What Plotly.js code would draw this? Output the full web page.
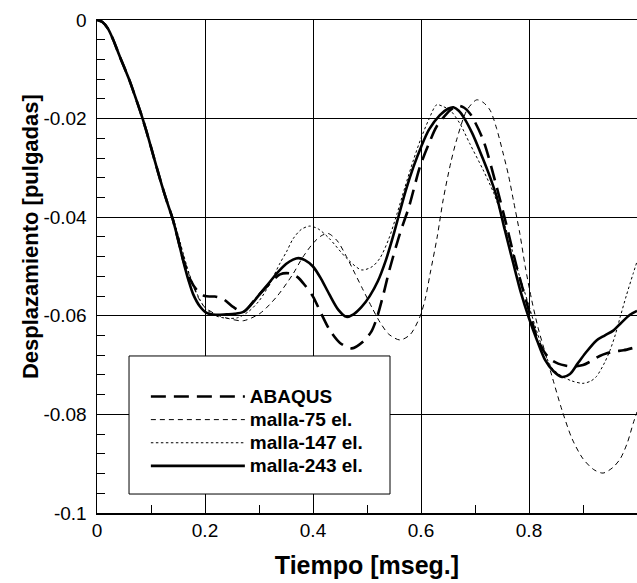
<!DOCTYPE html>
<html>
<head>
<meta charset="utf-8">
<script src="https://cdn.plot.ly/plotly-3.0.1.min.js"></script>
<style>html,body{margin:0;padding:0;background:#fff;}#chart{width:637px;height:583px;}</style>
</head>
<body>
<div id="chart"></div>
<script>
// ABAQUS
const abaqusX = [0,0.01,0.02,0.03,0.04,0.05,0.06,0.07,0.08,0.09,0.10,0.11,0.12,0.13,0.14,0.15,0.16,0.172,0.185,0.20,0.218,0.234,0.252,0.271,0.29,0.314,0.339,0.357,0.372,0.385,0.40,0.415,0.431,0.45,0.472,0.493,0.508,0.518,0.53,0.542,0.561,0.578,0.598,0.615,0.629,0.654,0.669,0.68,0.691,0.715,0.74,0.758,0.777,0.80,0.815,0.83,0.842,0.854,0.867,0.882,0.90,0.913,0.93,0.944,0.96,0.975,1.0];
const abaqusY = [0,-0.0004,-0.0017,-0.0040,-0.0068,-0.0095,-0.0122,-0.0153,-0.0185,-0.0220,-0.0258,-0.0297,-0.0335,-0.0370,-0.0403,-0.0445,-0.0488,-0.0525,-0.0548,-0.0560,-0.0561,-0.0566,-0.0582,-0.0592,-0.0570,-0.0541,-0.0516,-0.0514,-0.0522,-0.0538,-0.0561,-0.0595,-0.0629,-0.0655,-0.0666,-0.0652,-0.0632,-0.0605,-0.0558,-0.0505,-0.0433,-0.0378,-0.0298,-0.0250,-0.0216,-0.0183,-0.0174,-0.0178,-0.0190,-0.0243,-0.0338,-0.0415,-0.0500,-0.0590,-0.0645,-0.0676,-0.0690,-0.0697,-0.0701,-0.0703,-0.0700,-0.0693,-0.0682,-0.0676,-0.0672,-0.0670,-0.0663];
// malla-75 el.
const m75X = [0,0.01,0.02,0.03,0.04,0.05,0.06,0.07,0.08,0.09,0.10,0.11,0.12,0.13,0.14,0.15,0.16,0.17,0.18,0.19,0.20,0.222,0.245,0.271,0.302,0.333,0.363,0.38,0.40,0.415,0.428,0.445,0.462,0.478,0.493,0.51,0.524,0.54,0.561,0.58,0.598,0.608,0.617,0.63,0.641,0.655,0.666,0.685,0.703,0.715,0.728,0.74,0.752,0.762,0.771,0.783,0.793,0.805,0.817,0.83,0.844,0.861,0.88,0.90,0.92,0.937,0.955,0.969,0.982,0.993,1.0];
const m75Y = [0,-0.0004,-0.0017,-0.0040,-0.0068,-0.0095,-0.0122,-0.0153,-0.0185,-0.0220,-0.0258,-0.0297,-0.0335,-0.0370,-0.0400,-0.0438,-0.0478,-0.0515,-0.0545,-0.0568,-0.0583,-0.0598,-0.0606,-0.0610,-0.0595,-0.0561,-0.0515,-0.0483,-0.0453,-0.0438,-0.0433,-0.0448,-0.0480,-0.0515,-0.0548,-0.0585,-0.0613,-0.0637,-0.0649,-0.0638,-0.0602,-0.0565,-0.0514,-0.0440,-0.0365,-0.0290,-0.0243,-0.0183,-0.0162,-0.0167,-0.0183,-0.0220,-0.0270,-0.0315,-0.0365,-0.0433,-0.0500,-0.0568,-0.0625,-0.0675,-0.0728,-0.0791,-0.0850,-0.0890,-0.0912,-0.0919,-0.0908,-0.0890,-0.0858,-0.0818,-0.0795];
// malla-147 el.
const m147X = [0,0.01,0.02,0.03,0.04,0.05,0.06,0.07,0.08,0.09,0.10,0.11,0.12,0.13,0.14,0.15,0.16,0.17,0.18,0.19,0.20,0.22,0.24,0.26,0.28,0.30,0.32,0.339,0.351,0.363,0.378,0.394,0.41,0.43,0.462,0.49,0.51,0.524,0.54,0.555,0.57,0.586,0.60,0.614,0.629,0.642,0.654,0.672,0.69,0.715,0.735,0.752,0.765,0.777,0.79,0.80,0.811,0.825,0.842,0.86,0.879,0.90,0.915,0.925,0.94,0.95,0.96,0.969,0.98,0.993,1.0];
const m147Y = [0,-0.0004,-0.0017,-0.0040,-0.0068,-0.0095,-0.0122,-0.0153,-0.0185,-0.0220,-0.0258,-0.0297,-0.0335,-0.0370,-0.0400,-0.0435,-0.0475,-0.0512,-0.0542,-0.0566,-0.0584,-0.0600,-0.0605,-0.0604,-0.0592,-0.0570,-0.0535,-0.0493,-0.0470,-0.0444,-0.0425,-0.0418,-0.0424,-0.0443,-0.0483,-0.0507,-0.0500,-0.0483,-0.0445,-0.0395,-0.0340,-0.0284,-0.0240,-0.0203,-0.0172,-0.0176,-0.0183,-0.0210,-0.0250,-0.0304,-0.0352,-0.0406,-0.0452,-0.0500,-0.0545,-0.0580,-0.0620,-0.0665,-0.0705,-0.0722,-0.0732,-0.0737,-0.0732,-0.0723,-0.0695,-0.0670,-0.0638,-0.0602,-0.0560,-0.0514,-0.0490];
// malla-243 el.
const m243X = [0,0.01,0.02,0.03,0.04,0.05,0.06,0.07,0.08,0.09,0.10,0.11,0.12,0.13,0.14,0.15,0.16,0.17,0.178,0.19,0.203,0.22,0.24,0.255,0.271,0.285,0.302,0.318,0.333,0.35,0.363,0.373,0.385,0.40,0.415,0.43,0.447,0.462,0.475,0.49,0.505,0.52,0.535,0.548,0.56,0.572,0.586,0.60,0.615,0.635,0.65,0.66,0.67,0.68,0.695,0.709,0.725,0.74,0.755,0.771,0.785,0.80,0.815,0.83,0.845,0.861,0.876,0.89,0.905,0.925,0.94,0.956,0.97,0.987,1.0];
const m243Y = [0,-0.0004,-0.0017,-0.0040,-0.0068,-0.0095,-0.0122,-0.0153,-0.0185,-0.0220,-0.0258,-0.0297,-0.0335,-0.0370,-0.0403,-0.0445,-0.0490,-0.0530,-0.0556,-0.0580,-0.0594,-0.0598,-0.0597,-0.0596,-0.0592,-0.0578,-0.0555,-0.0534,-0.0514,-0.0495,-0.0486,-0.0483,-0.0487,-0.0500,-0.0525,-0.0556,-0.0588,-0.0602,-0.0597,-0.0582,-0.0560,-0.0530,-0.0487,-0.0440,-0.0392,-0.0345,-0.0298,-0.0258,-0.0222,-0.0193,-0.0180,-0.0177,-0.0184,-0.0199,-0.0230,-0.0266,-0.0310,-0.0358,-0.0425,-0.0494,-0.0553,-0.0605,-0.0650,-0.0690,-0.0712,-0.0724,-0.0718,-0.0697,-0.0675,-0.0650,-0.0640,-0.0630,-0.0615,-0.0598,-0.0590];

const seriesNames = ['ABAQUS', 'malla-75 el.', 'malla-147 el.', 'malla-243 el.'];
const xTickVals = [0, 0.2, 0.4, 0.6, 0.8, 1];
const xTickText = ['0', '0.2', '0.4', '0.6', '0.8', '1'];
const yTickVals = [-0.1, -0.08, -0.06, -0.04, -0.02, 0];
const yTickText = ['-0.1', '-0.08', '-0.06', '-0.04', '-0.02', '0'];
const xTitle = 'Tiempo [mseg.]';
const yTitle = 'Desplazamiento [pulgadas]';

const FONT = 'Liberation Sans, Arial, sans-serif';
const legName = n => '<span style="font-size:19px">' + n + '</span>';

const traces = [
  {x: abaqusX, y: abaqusY, name: legName(seriesNames[0]), mode: 'lines', line: {color: '#000', width: 2.6, dash: '15px,8px', shape: 'spline', smoothing: 0.8}},
  {x: m75X, y: m75Y, name: legName(seriesNames[1]), mode: 'lines', line: {color: '#000', width: 1, dash: '5px,4px', shape: 'spline', smoothing: 0.8}},
  {x: m147X, y: m147Y, name: legName(seriesNames[2]), mode: 'lines', line: {color: '#000', width: 1, dash: '2.5px,2.5px', shape: 'spline', smoothing: 0.8}},
  {x: m243X, y: m243Y, name: legName(seriesNames[3]), mode: 'lines', line: {color: '#000', width: 2.6, shape: 'spline', smoothing: 0.8}}
];

const layout = {
  width: 637, height: 583,
  margin: {l: 97, r: 0, t: 20, b: 70},
  paper_bgcolor: '#fff', plot_bgcolor: '#fff',
  font: {family: FONT, color: '#000', size: 19},
  showlegend: true,
  legend: {
    x: 0.0905, y: 0.27, xanchor: 'left', yanchor: 'top',
    bgcolor: 'rgba(0,0,0,0)', borderwidth: 0,
    font: {family: FONT, size: 15.5, weight: 'bold', color: '#000'},
    itemwidth: 94, tracegroupgap: 0
  },
  shapes: [{
    type: 'rect', xref: 'paper', yref: 'paper', layer: 'above',
    x0: 0.0593, x1: 0.5426, y0: 0.0385, y1: 0.3185,
    line: {color: '#000', width: 1}, fillcolor: '#fff'
  }],
  xaxis: {
    range: [0, 1], tickvals: xTickVals, ticktext: xTickText,
    showline: true, linecolor: '#000', linewidth: 1.5, mirror: true,
    ticks: 'inside', ticklen: 8, tickcolor: '#000',
    showgrid: true, gridcolor: '#000', gridwidth: 1,
    zeroline: false,
    tickfont: {family: FONT, size: 19, color: '#000'},
    minor: {dtick: 0.1, tick0: 0, ticks: 'inside', ticklen: 8, tickcolor: '#000', showgrid: false},
    title: {text: '<b>' + xTitle + '</b>', font: {family: FONT, size: 25, color: '#000'}, standoff: 16}
  },
  yaxis: {
    range: [-0.1, 0], tickvals: yTickVals, ticktext: yTickText,
    showline: true, linecolor: '#000', linewidth: 1.5, mirror: true,
    ticks: 'inside', ticklen: 8, tickcolor: '#000',
    showgrid: true, gridcolor: '#000', gridwidth: 1,
    zeroline: false,
    tickfont: {family: FONT, size: 19, color: '#000'},
    ticklabelstandoff: 5,
    minor: {dtick: 0.004, tick0: 0, ticks: 'inside', ticklen: 8, tickcolor: '#000', showgrid: false}
  },
  annotations: [{
    text: '<b>' + yTitle + '</b>', textangle: -90,
    xref: 'paper', yref: 'paper', x: -0.122, y: 0.56,
    xanchor: 'center', yanchor: 'middle', showarrow: false,
    font: {family: FONT, size: 22, color: '#000'}
  }]
};

Plotly.newPlot('chart', traces, layout, {displayModeBar: false, staticPlot: true});
</script>
</body>
</html>
